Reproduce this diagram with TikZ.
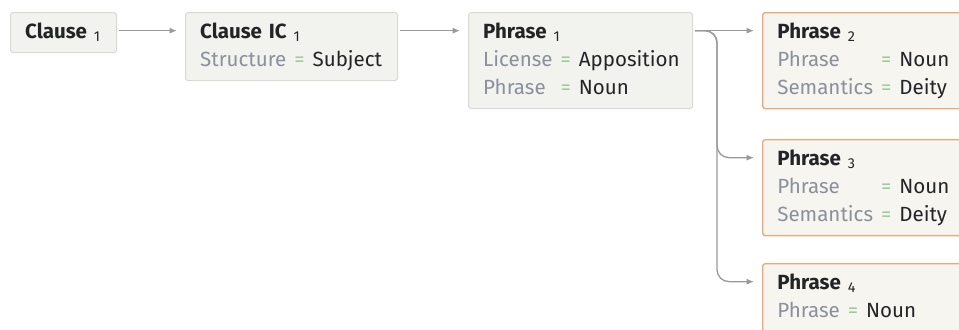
\documentclass[tikz,border=0pt]{standalone}
\usepackage{fontspec}
\setmainfont{Fira Sans}
\usetikzlibrary{arrows.meta}

\definecolor{boxfill}{HTML}{F2F3EE}
\definecolor{boxline}{HTML}{D9DAD3}
\definecolor{hitfill}{HTML}{F6F5F0}
\definecolor{hitline}{HTML}{F0A775}
\definecolor{keygrey}{HTML}{8A909C}
\definecolor{eqgreen}{HTML}{9CCB9C}
\definecolor{valdark}{HTML}{222426}
\definecolor{linkgrey}{HTML}{9A9A9A}

\newcommand\idx[1]{\textsubscript{\mdseries #1}}
\newcommand\head[2]{\multicolumn{3}{@{}l@{}}{\textbf{#1} \idx{#2}}}
\newcommand\kv[2]{\textcolor{keygrey}{#1} & \textcolor{eqgreen}{=} & #2}
\newenvironment{feats}{\begin{tabular}{@{}l@{\hspace{6pt}}l@{\hspace{6pt}}l@{}}}{\end{tabular}}

\begin{document}
\begin{tikzpicture}[
  x=0.75pt, y=-0.75pt,
  box/.style={draw=boxline, fill=boxfill, line width=0.8pt, rounded corners=2pt, anchor=north west,
    inner xsep=11pt, inner ysep=4.5pt, align=left, text=valdark, font=\fontsize{15.4}{21}\selectfont},
  hit/.style={box, draw=hitline, fill=hitfill, line width=1pt},
  link/.style={draw=linkgrey, line width=1pt, -{Latex[length=5.5pt,width=4.5pt]}, shorten >=6pt, shorten <=1.5pt}
]
  \clip (0,0) rectangle (959,329);

  \node[box, text width=57.5pt] (clause) at (10,12)
    {\begin{feats}\head{Clause}{1}\end{feats}};
  \node[box, text width=137pt] (clauseic) at (185,12)
    {\begin{feats}\head{Clause IC}{1}\\ \kv{Structure}{Subject}\end{feats}};
  \node[box, text width=146pt] (phrase1) at (468,12)
    {\begin{feats}\head{Phrase}{1}\\ \kv{License}{Apposition}\\ \kv{Phrase}{Noun}\end{feats}};
  \node[hit, text width=146pt] (phrase2) at (762,12)
    {\begin{feats}\head{Phrase}{2}\\ \kv{Phrase}{Noun}\\ \kv{Semantics}{Deity}\end{feats}};
  \node[hit, text width=146pt] (phrase3) at (762,139)
    {\begin{feats}\head{Phrase}{3}\\ \kv{Phrase}{Noun}\\ \kv{Semantics}{Deity}\end{feats}};
  \node[hit, text width=146pt] (phrase4) at (762,263)
    {\begin{feats}\head{Phrase}{4}\\ \kv{Phrase}{Noun}\\ \end{feats}};

  \coordinate (fork) at (717,0);
  \coordinate (out1) at ([yshift=-14pt]phrase1.north east);
  \coordinate (in3) at ([yshift=-14pt]phrase3.north west);
  \coordinate (in4) at ([yshift=-14pt]phrase4.north west);

  \draw[link] ([yshift=-14pt]clause.north east) -- ([yshift=-14pt]clauseic.north west);
  \draw[link] ([yshift=-14pt]clauseic.north east) -- ([yshift=-14pt]phrase1.north west);
  \draw[link] (out1) -- ([yshift=-14pt]phrase2.north west);
  \draw[link, rounded corners=9pt] (out1) -| (fork |- in3) -- (in3);
  \draw[link, rounded corners=9pt] (out1) -| (fork |- in4) -- (in4);
\end{tikzpicture}
\end{document}
